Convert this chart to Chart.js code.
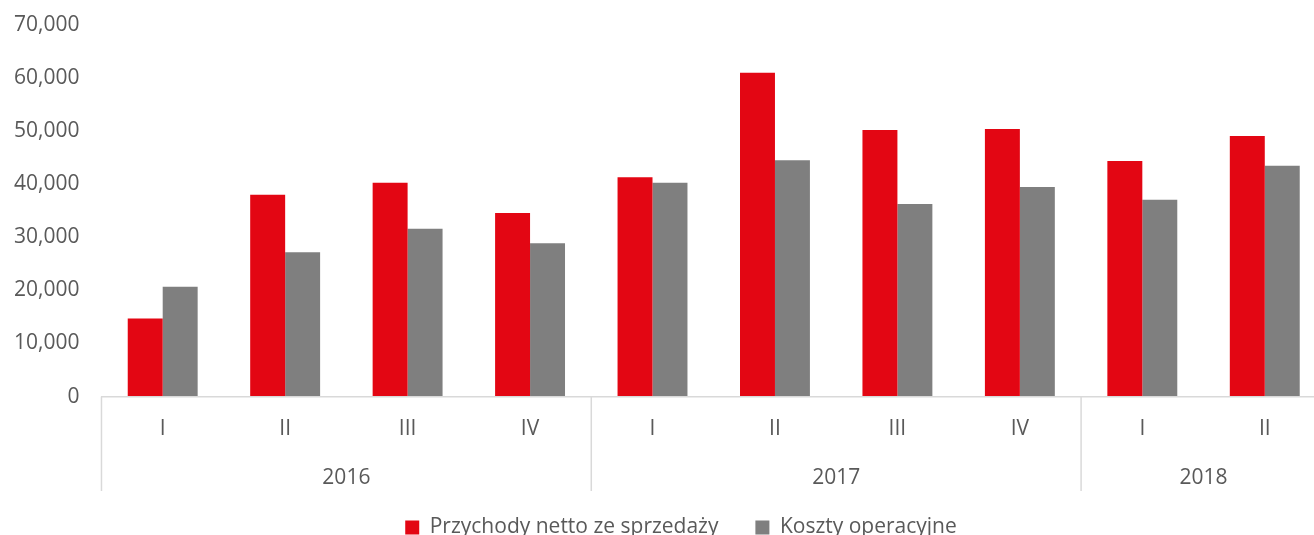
<!DOCTYPE html>
<html lang="pl">
<head>
  <meta charset="UTF-8" />
  <title>Przychody i koszty</title>
  <script src="https://cdn.jsdelivr.net/npm/chart.js"></script>
  <style>
    html, body { margin: 0; padding: 0; overflow: hidden; background: #fff; }
    /* the original plot runs a little past the right edge of the picture */
    #wrap { width: 1326px; height: 548px; }
  </style>
</head>
<body>
  <div id="wrap"><canvas id="chart"></canvas></div>

  <script>
    // Quarter labels and the year row underneath
    const quarters = ["I", "II", "III", "IV", "I", "II", "III", "IV", "I", "II"];
    const yearRow = ["", "", "2016", "", "", "", "2017", "", "", "2018", ""];
    const yearBreaks = [0, 4, 8];

    const przychody = [14700, 38000, 40300, 34600, 41300, 61000, 50200, 50400, 44400, 49100];
    const koszty = [20700, 27200, 31600, 28900, 40300, 44500, 36300, 39500, 37100, 43500];

    const yTicks = [0, 10000, 20000, 30000, 40000, 50000, 60000, 70000];

    const txt = "#595959";
    const lineCol = "#D9D9D9";
    const none = "rgba(0,0,0,0)";
    const font = { family: "'Open Sans'", size: 21 };

    // invisible tick marks are used as spacing between axis and labels
    const spacer = (len) => ({ display: true, drawOnChartArea: false, drawTicks: true, tickLength: len, color: none });

    // vertical separators between years, spanning both label rows
    const yearLines = {
      id: "yearLines",
      afterDraw(chart) {
        const ys = chart.scales.years;
        const xs = chart.scales.x;
        const c = chart.ctx;
        c.save();
        c.strokeStyle = lineCol;
        c.lineWidth = 1.5;
        yearBreaks.forEach((b) => {
          const px = ys.getPixelForValue(b);
          c.beginPath();
          c.moveTo(px, xs.top);
          c.lineTo(px, ys.bottom);
          c.stroke();
        });
        c.restore();
      }
    };

    const ctx = document.getElementById("chart").getContext("2d");

    new Chart(ctx, {
      type: "bar",
      data: {
        labels: quarters,
        datasets: [
          {
            label: "Przychody netto ze sprzedaży",
            data: przychody,
            backgroundColor: "#E30613"
          },
          {
            label: "Koszty operacyjne",
            data: koszty,
            backgroundColor: "#7F7F7F"
          }
        ]
      },
      plugins: [yearLines],
      options: {
        responsive: true,
        maintainAspectRatio: false,
        animation: false,
        datasets: {
          bar: { categoryPercentage: 0.571, barPercentage: 1.0 }
        },
        layout: { padding: { top: 25, left: 14, right: 0, bottom: 0 } },
        plugins: {
          tooltip: { enabled: false },
          legend: {
            position: "bottom",
            fullSize: false,
            labels: {
              color: txt,
              font: font,
              boxWidth: 14,
              boxHeight: 14,
              padding: 26,
              generateLabels: (chart) => {
                const items = Chart.defaults.plugins.legend.labels.generateLabels(chart);
                items[0].text += "\u00A0\u00A0";
                items[1].text += "\u00A0".repeat(12);
                items.forEach((it) => { it.lineWidth = 0; });
                return items;
              }
            }
          }
        },
        scales: {
          y: {
            min: 0,
            max: 70000,
            afterBuildTicks: (axis) => { axis.ticks = yTicks.map((v) => ({ value: v })); },
            grid: spacer(22),
            border: { display: false },
            ticks: {
              color: txt,
              font: font,
              padding: 0,
              callback: (v) => Number(v).toLocaleString("en-US")
            }
          },
          x: {
            grid: spacer(20),
            border: { display: true, color: lineCol, width: 1.5 },
            ticks: { color: txt, font: font, padding: 0, maxRotation: 0, autoSkip: false }
          },
          years: {
            type: "category",
            position: "bottom",
            labels: yearRow,
            offset: false,
            grid: spacer(24),
            border: { display: false },
            ticks: { color: txt, font: font, padding: 0, maxRotation: 0, autoSkip: false }
          }
        }
      }
    });
  </script>
</body>
</html>
